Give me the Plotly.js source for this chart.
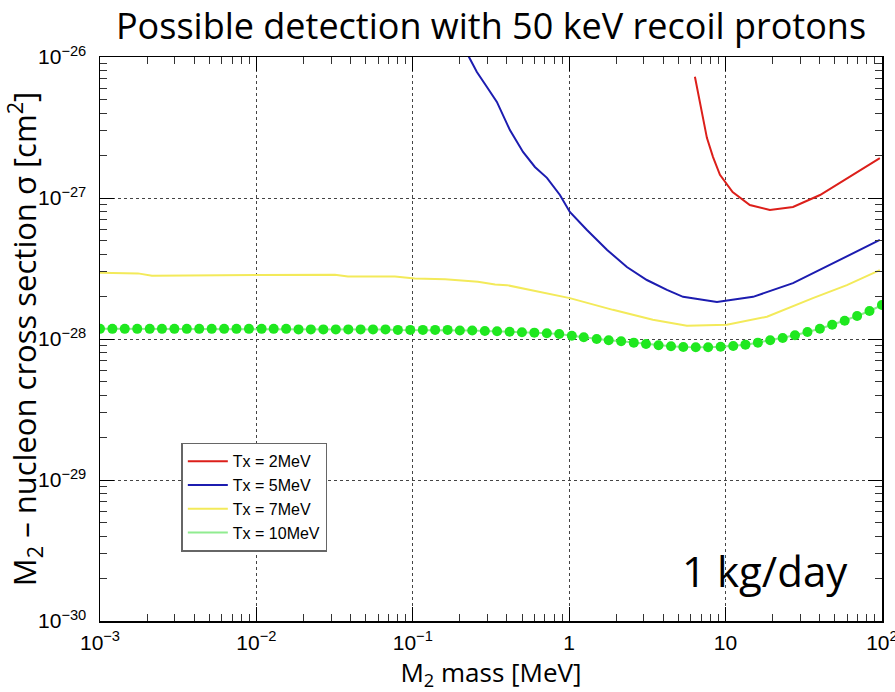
<!DOCTYPE html>
<html>
<head>
<meta charset="utf-8">
<script src="https://cdn.plot.ly/plotly-3.0.1.min.js"></script>
<style>html,body{margin:0;padding:0;background:#fff;}#chart{width:895px;height:692px;}</style>
</head>
<body>
<div id="chart"></div>
<script>
// ---- data ----
const redX = [6.37, 7.18, 7.60, 8.32, 9.21, 11.1, 14.3, 19.2, 27.0, 40.2, 62.4, 97.0];
const redY = [7.24e-27, 3.75e-27, 2.67e-27, 1.95e-27, 1.46e-27, 1.10e-27, 8.91e-28, 8.22e-28, 8.63e-28, 1.05e-27, 1.41e-27, 1.92e-27];

const blueX = [0.2255, 0.257, 0.298, 0.345, 0.418, 0.507, 0.604, 0.721, 0.873, 1.01, 1.30, 1.75, 2.34, 3.14, 4.22, 5.35, 8.81, 15.0, 27.0, 48.6, 97.0];
const blueY = [1.03e-26, 7.83e-27, 6.13e-27, 4.80e-27, 3.03e-27, 2.12e-27, 1.66e-27, 1.39e-27, 1.05e-27, 7.96e-28, 5.93e-28, 4.28e-28, 3.24e-28, 2.62e-28, 2.23e-28, 1.99e-28, 1.83e-28, 1.99e-28, 2.49e-28, 3.46e-28, 5.04e-28];

const yellowX = [0.001, 0.00175, 0.00215, 0.00405, 0.0102, 0.0318, 0.0385, 0.0769, 0.103, 0.161, 0.261, 0.336, 0.40, 1.01, 1.905, 3.43, 5.66, 10.2, 18.4, 36.2, 59.7, 97.0];
const yellowY = [2.95e-28, 2.92e-28, 2.81e-28, 2.81e-28, 2.84e-28, 2.86e-28, 2.77e-28, 2.77e-28, 2.69e-28, 2.65e-28, 2.55e-28, 2.44e-28, 2.41e-28, 1.95e-28, 1.61e-28, 1.37e-28, 1.24e-28, 1.26e-28, 1.44e-28, 1.95e-28, 2.41e-28, 3.08e-28];

const greenX = [0.001, 0.0012, 0.00144, 0.00173, 0.00208, 0.00249, 0.00299, 0.00359, 0.00431, 0.00518,
  0.00622, 0.00746, 0.00896, 0.0108, 0.0129, 0.0155, 0.0186, 0.0223, 0.0268, 0.0322,
  0.0387, 0.0464, 0.0557, 0.0669, 0.0803, 0.0964, 0.116, 0.139, 0.167, 0.200,
  0.240, 0.289, 0.346, 0.416, 0.499, 0.599, 0.720, 0.864, 1.04, 1.24,
  1.50, 1.79, 2.15, 2.59, 3.10, 3.73, 4.48, 5.37, 6.45, 7.74,
  9.30, 11.2, 13.4, 16.1, 19.3, 23.2, 27.8, 33.4, 40.1, 48.1,
  57.8, 69.4, 83.3, 100];
const greenY = [1.18e-28, 1.18e-28, 1.18e-28, 1.18e-28, 1.18e-28, 1.18e-28, 1.18e-28, 1.18e-28, 1.18e-28, 1.18e-28,
  1.18e-28, 1.18e-28, 1.18e-28, 1.18e-28, 1.18e-28, 1.18e-28, 1.17e-28, 1.17e-28, 1.17e-28, 1.17e-28,
  1.17e-28, 1.17e-28, 1.17e-28, 1.17e-28, 1.16e-28, 1.16e-28, 1.16e-28, 1.16e-28, 1.16e-28, 1.15e-28,
  1.15e-28, 1.14e-28, 1.135e-28, 1.127e-28, 1.116e-28, 1.109e-28, 1.097e-28, 1.084e-28, 1.055e-28, 1.028e-28,
  1.0e-28, 9.79e-29, 9.63e-29, 9.42e-29, 9.22e-29, 9.02e-29, 8.88e-29, 8.78e-29, 8.73e-29, 8.73e-29,
  8.82e-29, 8.92e-29, 9.12e-29, 9.42e-29, 9.79e-29, 1.016e-28, 1.062e-28, 1.122e-28, 1.183e-28, 1.263e-28,
  1.348e-28, 1.455e-28, 1.58e-28, 1.74e-28];

const seriesNames = ["Tx = 2MeV", "Tx = 5MeV", "Tx = 7MeV", "Tx = 10MeV"];

const xTickVals = [0.001, 0.01, 0.1, 1, 10, 100];
const xTickText = ["10<sup>\u22123</sup>", "10<sup>\u22122</sup>", "10<sup>\u22121</sup>", "1", "10", "10<sup>2</sup>"];
const yTickVals = [1e-30, 1e-29, 1e-28, 1e-27, 1e-26];
const yTickText = ["10<sup>\u221230</sup>", "10<sup>\u221229</sup>", "10<sup>\u221228</sup>", "10<sup>\u221227</sup>", "10<sup>\u221226</sup>"];

// ---- traces ----
const traces = [
  {x: redX, y: redY, name: seriesNames[0], mode: "lines", line: {color: "#dc1f1a", width: 2}},
  {x: blueX, y: blueY, name: seriesNames[1], mode: "lines", line: {color: "#1c1cb0", width: 2}},
  {x: yellowX, y: yellowY, name: seriesNames[2], mode: "lines", line: {color: "#f3ea5a", width: 2}},
  {x: greenX, y: greenY, name: seriesNames[3], mode: "lines+markers", showlegend: false,
   line: {color: "#8ee88e", width: 2}, marker: {color: "#1fe81f", size: 10, line: {width: 0}}},
  {x: [null], y: [null], name: seriesNames[3], mode: "lines", line: {color: "#90ec90", width: 2}}
];

const axisCommon = {
  type: "log",
  showline: true, linecolor: "#000", linewidth: 1.5, mirror: "allticks",
  ticks: "inside", ticklen: 14, tickcolor: "#000", tickwidth: 1,
  showgrid: true, gridcolor: "#444", griddash: "dot", gridwidth: 1,
  zeroline: false,
  ticklabeloverflow: "allow",
  tickfont: {family: "Liberation Sans, Arial, sans-serif", size: 21, color: "#000"},
  minor: {ticks: "inside", ticklen: 7, tickcolor: "#333", dtick: "D1", showgrid: false}
};

const layout = {
  width: 895, height: 692,
  paper_bgcolor: "#fff", plot_bgcolor: "#fff",
  margin: {l: 100, r: 13, t: 57, b: 71},
  title: {
    text: "Possible detection with 50 keV recoil protons",
    font: {family: "Open Sans, sans-serif", size: 36, color: "#000"},
    x: 0.5, xref: "paper", y: 0.962, yref: "container", yanchor: "middle"
  },
  xaxis: Object.assign({}, axisCommon, {
    range: [-3, 2.0005],
    tickvals: xTickVals, ticktext: xTickText,
    ticklabelstandoff: 2,
    title: {text: "M<sub>2</sub> mass [MeV]", font: {family: "Open Sans, sans-serif", size: 26, color: "#000"}, standoff: 4}
  }),
  yaxis: Object.assign({}, axisCommon, {
    range: [-30, -26],
    tickvals: yTickVals, ticktext: yTickText,
    ticklabelstandoff: 8,
    title: {text: "M<sub>2</sub> \u2013 nucleon cross section \u03c3 [cm<sup>2</sup>]", font: {family: "Open Sans, sans-serif", size: 31, color: "#000"}, standoff: 0}
  }),
  showlegend: true,
  legend: {
    x: 0.104, y: 0.316, xanchor: "left", yanchor: "top",
    bgcolor: "#fff", bordercolor: "#666", borderwidth: 1.5,
    font: {family: "Liberation Sans, Arial, sans-serif", size: 16, color: "#000"},
    itemwidth: 40, tracegroupgap: 0
  },
  annotations: [
    {text: "1 kg/day", xref: "paper", yref: "paper", x: 0.959, y: 0.09, xanchor: "right", yanchor: "middle",
     showarrow: false, font: {family: "Open Sans, sans-serif", size: 42, color: "#000"}}
  ]
};

Plotly.newPlot("chart", traces, layout, {displayModeBar: false, staticPlot: true});
</script>
</body>
</html>
